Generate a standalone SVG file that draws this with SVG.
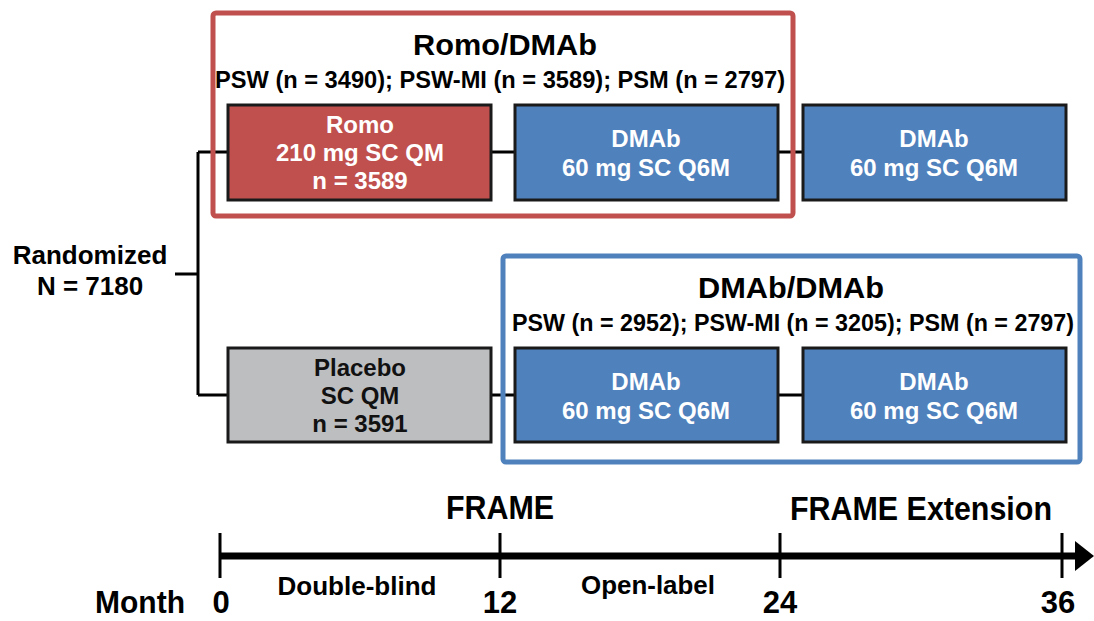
<svg xmlns="http://www.w3.org/2000/svg" width="1094" height="621" viewBox="0 0 1094 621">
<defs>
<style>
text{font-family:"Liberation Sans",Arial,sans-serif;font-weight:bold;text-anchor:middle}
.bx{stroke:#1a1a1a;stroke-width:3}
.red{fill:#C0504D}
.blue{fill:#4F81BD}
.grey{fill:#BDBEC0}
.bt{fill:#fff;font-size:24px}
.gt{fill:#111;font-size:24px}
.frame{fill:none;stroke-width:5}
.ttl{font-size:30px;fill:#000}
.sub{font-size:23.5px;fill:#000}
.ln{stroke:#000;stroke-width:3;fill:none}
.tl{font-size:33px;fill:#000}
.num{font-size:31px;fill:#000}
.ph{font-size:26px;fill:#000}
</style>
</defs>
<rect width="1094" height="621" fill="#fff"/>

<g id="connectors">
<path class="ln" d="M198,152 V395 M175,274 H198 M198,152 H228 M198,395 H228 M491,152 H515 M778,152 H803 M491,395 H515 M778,395 H803"/>
</g>

<g id="romo-dmab-frame">
<rect class="frame" x="213" y="13" width="580" height="203" rx="3" stroke="#C0504D"/>
<text class="ttl" x="505" y="55" textLength="184" lengthAdjust="spacingAndGlyphs">Romo/DMAb</text>
<text class="sub" x="500" y="88" textLength="570" lengthAdjust="spacingAndGlyphs">PSW (n = 3490); PSW-MI (n = 3589); PSM (n = 2797)</text>
</g>

<g id="dmab-dmab-frame">
<rect class="frame" x="503" y="256" width="577" height="206" rx="3" stroke="#4F81BD"/>
<text class="ttl" x="791" y="298" textLength="186" lengthAdjust="spacingAndGlyphs">DMAb/DMAb</text>
<text class="sub" x="793" y="331" textLength="562" lengthAdjust="spacingAndGlyphs">PSW (n = 2952); PSW-MI (n = 3205); PSM (n = 2797)</text>
</g>

<g id="randomized">
<text x="90" y="264" style="font-size:26px">Randomized</text>
<text x="90" y="295" style="font-size:26px">N = 7180</text>
</g>

<g id="romo">
<rect class="bx red" x="228" y="105" width="263" height="95"/>
<text class="bt" x="360" y="133">Romo</text>
<text class="bt" x="360" y="161">210 mg SC QM</text>
<text class="bt" x="360" y="189">n = 3589</text>
</g>

<g id="dmab-top-1">
<rect class="bx blue" x="515" y="105" width="263" height="95"/>
<text class="bt" x="646" y="147">DMAb</text>
<text class="bt" x="646" y="176">60 mg SC Q6M</text>
</g>

<g id="dmab-top-2">
<rect class="bx blue" x="803" y="105" width="263" height="95"/>
<text class="bt" x="934" y="147">DMAb</text>
<text class="bt" x="934" y="176">60 mg SC Q6M</text>
</g>

<g id="placebo">
<rect class="bx grey" x="228" y="348" width="263" height="94"/>
<text class="gt" x="360" y="376">Placebo</text>
<text class="gt" x="360" y="404">SC QM</text>
<text class="gt" x="360" y="432">n = 3591</text>
</g>

<g id="dmab-bot-1">
<rect class="bx blue" x="515" y="348" width="263" height="94"/>
<text class="bt" x="646" y="390">DMAb</text>
<text class="bt" x="646" y="419">60 mg SC Q6M</text>
</g>

<g id="dmab-bot-2">
<rect class="bx blue" x="803" y="348" width="263" height="94"/>
<text class="bt" x="934" y="390">DMAb</text>
<text class="bt" x="934" y="419">60 mg SC Q6M</text>
</g>

<g id="timeline">
<line x1="220" y1="556" x2="1076" y2="556" stroke="#000" stroke-width="7"/>
<path d="M1075,541 L1094,556 L1075,571 z" fill="#000"/>
<path class="ln" d="M220,533 V578 M500,533 V578 M780,533 V578 M1062,533 V578"/>
<text class="tl" x="500" y="519" textLength="108" lengthAdjust="spacingAndGlyphs">FRAME</text>
<text class="tl" x="921" y="520" textLength="262" lengthAdjust="spacingAndGlyphs">FRAME Extension</text>
<text class="ph" x="357" y="595" textLength="159" lengthAdjust="spacingAndGlyphs">Double-blind</text>
<text class="ph" x="648" y="594" textLength="134" lengthAdjust="spacingAndGlyphs">Open-label</text>
<text class="num" x="140" y="613" textLength="90" lengthAdjust="spacingAndGlyphs">Month</text>
<text class="num" x="221" y="613">0</text>
<text class="num" x="500" y="613">12</text>
<text class="num" x="780" y="613">24</text>
<text class="num" x="1058" y="613">36</text>
</g>
</svg>
